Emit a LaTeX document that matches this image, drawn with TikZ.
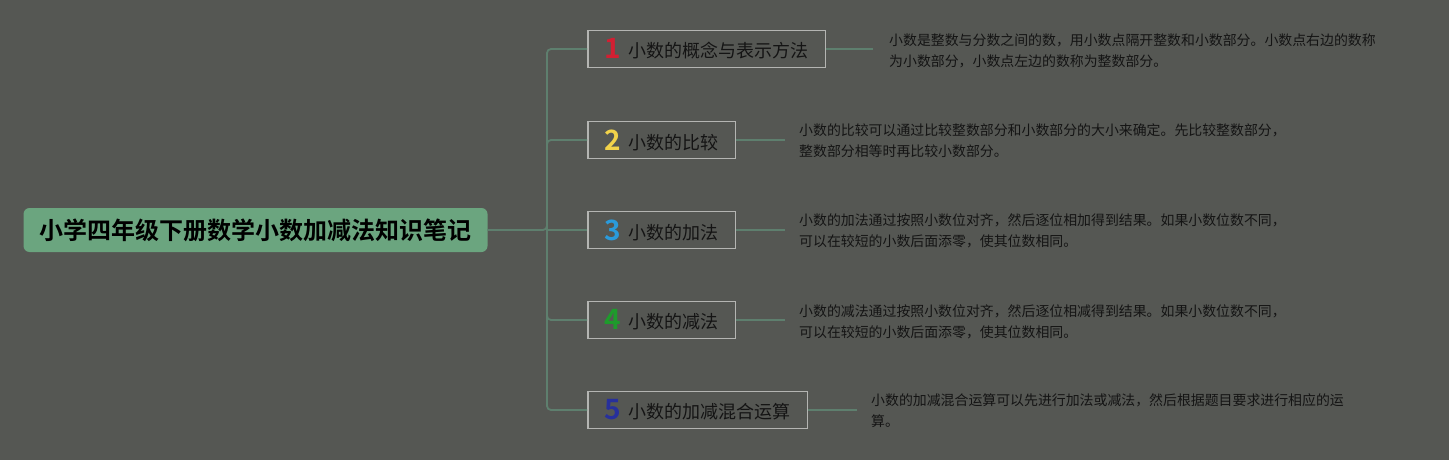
\documentclass[tikz,border=0pt]{standalone}
\usepackage{fontspec}
\setmainfont{Noto Sans CJK SC}
\newfontfamily\cjkb{Noto Sans CJK SC}[UprightFont=* Bold]
\definecolor{bgc}{HTML}{555753}
\definecolor{linec}{HTML}{5E7F6E}
\definecolor{rootc}{HTML}{6BA57F}
\definecolor{boxc}{HTML}{B4B5B2}
\definecolor{txtc}{HTML}{141414}
\definecolor{nred}{HTML}{D21F32}
\definecolor{nyel}{HTML}{F2D34A}
\definecolor{nblu}{HTML}{2A9BDC}
\definecolor{ngrn}{HTML}{1E9B2C}
\definecolor{nnav}{HTML}{27309C}
\tikzset{
  rootbox/.style={draw=none, fill=rootc, rounded corners=6pt, minimum height=44pt, inner xsep=16pt, font=\cjkb\fontsize{24}{28}\selectfont, text=black},
  topicbox/.style={draw=boxc, line width=1.6pt, fill=bgc, minimum height=37pt, inner xsep=17pt, inner ysep=0pt, font=\fontsize{18}{22}\selectfont, text=txtc, anchor=west},
  desc/.style={inner sep=0pt, align=left, anchor=west, text=txtc, font=\fontsize{13.9}{20.8}\selectfont},
  conn/.style={draw=linec, line width=1.8pt, rounded corners=4pt},
}
\newcommand{\numlbl}[2]{\raisebox{-1pt}{\cjkb\fontsize{28}{28}\selectfont\color{#1}#2}\hspace{7pt}}
\begin{document}
\begin{tikzpicture}[x=1pt,y=-1pt]
\fill[bgc] (0,0) rectangle (1449,460);
\useasboundingbox (0,0) rectangle (1449,460);

\node[rootbox] (root) at (255.5,230) {小学四年级下册数学小数加减法知识笔记};
\coordinate (trunk) at (547,230);

\node[topicbox] (b1) at (587,49) {\numlbl{nred}{1}小数的概念与表示方法};
\node[topicbox] (b2) at (587,140) {\numlbl{nyel}{2}小数的比较};
\node[topicbox] (b3) at (587,230) {\numlbl{nblu}{3}小数的加法};
\node[topicbox] (b4) at (587,320) {\numlbl{ngrn}{4}小数的减法};
\node[topicbox] (b5) at (587,410) {\numlbl{nnav}{5}小数的加减混合运算};

\node[desc] (d1) at (889,51) {小数是整数与分数之间的数，用小数点隔开整数和小数部分。小数点右边的数称\\为小数部分，小数点左边的数称为整数部分。};
\node[desc] (d2) at (799,140.5) {小数的比较可以通过比较整数部分和小数部分的大小来确定。先比较整数部分，\\整数部分相等时再比较小数部分。};
\node[desc] (d3) at (799,230.5) {小数的加法通过按照小数位对齐，然后逐位相加得到结果。如果小数位数不同，\\可以在较短的小数后面添零，使其位数相同。};
\node[desc] (d4) at (799,321.5) {小数的减法通过按照小数位对齐，然后逐位相减得到结果。如果小数位数不同，\\可以在较短的小数后面添零，使其位数相同。};
\node[desc] (d5) at (871,411) {小数的加减混合运算可以先进行加法或减法，然后根据题目要求进行相应的运\\算。};

\draw[conn] (root.east) -- (trunk) |- (b1.west);
\draw[conn] (trunk) |- (b2.west);
\draw[conn] (trunk) -- (b3.west);
\draw[conn] (trunk) |- (b4.west);
\draw[conn] (trunk) |- (b5.west);

\draw[conn] (b1.east) -- ([xshift=-16pt]d1.west |- b1.east);
\draw[conn] (b2.east) -- ([xshift=-14pt]d2.west |- b2.east);
\draw[conn] (b3.east) -- ([xshift=-14pt]d3.west |- b3.east);
\draw[conn] (b4.east) -- ([xshift=-14pt]d4.west |- b4.east);
\draw[conn] (b5.east) -- ([xshift=-14pt]d5.west |- b5.east);
\end{tikzpicture}
\end{document}
